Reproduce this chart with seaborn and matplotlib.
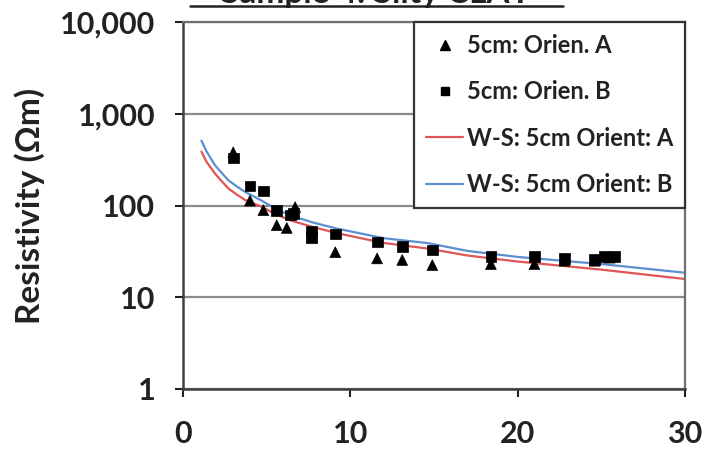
import matplotlib
matplotlib.use("Agg")
import matplotlib.pyplot as plt
import matplotlib.ticker as mticker
from matplotlib.lines import Line2D
import seaborn as sns
import pandas as pd

# ---- data ----
a_x = [3.0, 4.0, 4.8, 5.6, 6.2, 6.7, 7.7, 9.1, 11.6, 13.1, 14.9, 18.4, 21.0, 22.8, 24.6, 25.5]
a_y = [380, 113, 89, 61, 57, 96, 45, 31, 26.5, 25.5, 22.4, 23, 23, 25, 25, 27]
b_x = [3.0, 4.0, 4.8, 5.6, 6.4, 6.6, 7.7, 7.7, 9.1, 11.6, 13.1, 14.9, 18.4, 21.0, 22.8, 24.6, 25.2, 25.8]
b_y = [330, 163, 144, 89, 79, 82, 52, 45, 49, 40, 35.6, 32.7, 28, 28, 26.5, 26, 28, 28]
ws_x = [1.1, 1.4, 1.9, 2.3, 2.7, 3.2, 3.7, 4.7, 5.5, 6.4, 7.8, 9.2, 12, 14.6, 17, 20, 25, 30]
ws_a = [387, 300, 224, 185, 154, 132, 115, 97, 81, 69, 58, 50, 39, 34, 28.5, 24.5, 20, 15.8]
ws_b = [510, 390, 276, 228, 189, 162, 141, 113, 93, 78, 65, 56, 44, 39, 32, 27.5, 23, 18.5]
y_ticks = [1, 10, 100, 1000, 10000]
x_ticks = [0, 10, 20, 30]
title = "Sample 4: Silty CLAY"
ylabel = "Resistivity (\u03a9m)"
labels = ["5cm: Orien. A", "5cm: Orien. B", "W-S: 5cm Orient: A", "W-S: 5cm Orient: B"]

sns.set_theme(style="white")
plt.rcParams["font.family"] = ["Lato", "DejaVu Sans"]
plt.rcParams["font.weight"] = "bold"

pts = pd.concat([
    pd.DataFrame({"x": a_x, "y": a_y, "s": labels[0]}),
    pd.DataFrame({"x": b_x, "y": b_y, "s": labels[1]}),
])
lines = pd.concat([
    pd.DataFrame({"x": ws_x, "y": ws_a, "s": labels[2]}),
    pd.DataFrame({"x": ws_x, "y": ws_b, "s": labels[3]}),
])

fig = plt.figure(figsize=(7.04, 4.53), dpi=100)
ax = fig.add_axes([0.26, 0.1413, 0.713, 0.8101])

red = "#E05555"
blue = "#5B8FD2"
sns.lineplot(data=lines, x="x", y="y", hue="s", palette=[red, blue],
             linewidth=1.6, ax=ax, legend=False, sort=False)
sns.scatterplot(data=pts, x="x", y="y", style="s", markers=["^", "s"],
                color="black", s=60, edgecolor="black", linewidth=0.5,
                ax=ax, legend=False, zorder=3)

ax.set_yscale("log")
ax.set_ylim(1, 10000)
ax.set_xlim(0, 30)
ax.set_yticks(y_ticks)
ax.yaxis.set_major_formatter(mticker.FuncFormatter(lambda v, p: f"{v:,.0f}"))
ax.yaxis.set_minor_locator(mticker.NullLocator())
ax.set_xticks(x_ticks)
ax.grid(axis="y", color="#8a8a8a", linewidth=1.6)
ax.set_axisbelow(True)
ax.set_xlabel("")
ax.set_ylabel(ylabel, fontsize=24, fontweight="bold", labelpad=11, color="#222222")
ax.tick_params(axis="both", which="major", labelsize=22, colors="#222222",
               direction="out", length=6, width=1.5, pad=14, left=True, bottom=True)
ax.tick_params(axis="x", pad=16)
for lab in ax.get_xticklabels() + ax.get_yticklabels():
    lab.set_fontweight("bold")
for side in ["left", "bottom"]:
    ax.spines[side].set_color("#404040")
    ax.spines[side].set_linewidth(1.8)
for side in ["top", "right"]:
    ax.spines[side].set_color("#707070")
    ax.spines[side].set_linewidth(1.6)

handles = [
    Line2D([], [], linestyle="none", marker="^", color="black", markersize=7),
    Line2D([], [], linestyle="none", marker="s", color="black", markersize=6),
    Line2D([], [], color=red, linewidth=1.6),
    Line2D([], [], color=blue, linewidth=1.6),
]
leg = ax.legend(handles, labels, loc="upper right", bbox_to_anchor=(1.0, 1.0),
                borderaxespad=0, fancybox=False, framealpha=1, edgecolor="#333333",
                prop={"family": ["Lato", "DejaVu Sans"], "weight": "bold", "size": 17},
                labelspacing=0.99, handlelength=1.6, handletextpad=0.15, borderpad=0.5)
leg.get_frame().set_linewidth(1.6)
for t in leg.get_texts():
    t.set_color("#222222")

fig.text(0.534, 0.9934, title, ha="center", va="baseline", fontsize=24,
         fontweight="bold", color="#222222")
fig.add_artist(Line2D([190 / 704, 563 / 704], [1 - 6 / 453, 1 - 6 / 453],
                      color="#222222", linewidth=1.8, transform=fig.transFigure))

fig.savefig("out.png", dpi=100)
